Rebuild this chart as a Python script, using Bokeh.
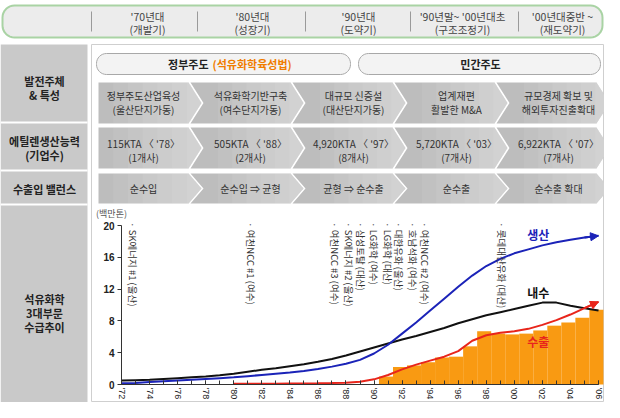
import math
from bokeh.plotting import figure
from bokeh.models import Range1d, FixedTicker, Arrow, NormalHead, ColumnDataSource
from bokeh.transform import dodge
from bokeh.core.properties import value
from bokeh.embed import file_html
from bokeh.resources import INLINE

# ---------------- data ----------------
years = list(range(1972, 2007))
production = [0.15, 0.2, 0.3, 0.4, 0.5, 0.6, 0.7, 0.8, 0.9, 1.05, 1.2, 1.35, 1.5, 1.7,
              1.95, 2.25, 2.6, 3.1, 3.9, 5.0, 6.4, 7.8, 9.3, 10.8, 12.3, 13.7, 14.9,
              15.8, 16.5, 17.0, 17.5, 17.9, 18.2, 18.5, 18.7]
domestic = [0.5, 0.55, 0.6, 0.7, 0.8, 0.9, 1.0, 1.15, 1.35, 1.6, 1.85, 2.05, 2.3, 2.55,
            2.85, 3.2, 3.65, 4.15, 4.65, 5.15, 5.65, 6.1, 6.6, 7.1, 7.7, 8.2, 8.7,
            9.1, 9.5, 9.9, 10.3, 10.3, 9.9, 9.6, 9.3]
export_years = list(range(1980, 2007))
exports = [0.1, 0.1, 0.1, 0.1, 0.12, 0.14, 0.15, 0.18, 0.22, 0.35, 0.65, 1.2, 1.9, 2.5,
           3.0, 3.5, 4.2, 5.5, 6.2, 6.5, 6.7, 7.0, 7.5, 8.1, 8.8, 9.6, 10.4]
bar_years = list(range(1991, 2007))
bar_exports = [1.0, 2.2, 2.4, 2.8, 3.4, 3.5, 4.8, 6.7, 6.4, 6.3, 6.4, 6.8, 7.4, 7.8, 8.4, 9.4]

y_ticks = [0, 4, 8, 12, 16, 20]
x_ticks = list(range(1972, 2007, 2))
x_tick_labels = ["'72", "'74", "'76", "'78", "'80", "'82", "'84", "'86", "'88", "'90",
                 "'92", "'94", "'96", "'98", "'00", "'02", "'04", "'06"]

plant_years = [1972.8, 1981.2, 1987.2, 1988.2, 1989.1, 1990.0, 1991.0, 1991.8, 1992.8, 1993.6, 1999.1]
plant_labels = ["· SK에너지 #1 (울산)", "· 여천NCC #1 (여수)", "· 여천NCC #3 (여수)",
                "· SK에너지 #2 (울산)", "· 삼성토탈 (대산)", "· LG화학 (여수)",
                "· LG화학 (대산)", "· 대한유화 (울산)", "· 호남석화 (여수)",
                "· 여천NCC #2 (여수)", "· 롯데대산유화 (대산)"]

series_names = ["생산", "내수", "수출"]
label_x = [2001.7, 2001.7, 2001.7]
label_y = [18.9, 11.6, 5.45]

periods = ["'70년대", "'80년대", "'90년대", "'90년말~ '00년대초", "'00년대중반 ~"]
period_names = ["(개발기)", "(성장기)", "(도약기)", "(구조조정기)", "(재도약기)"]
stage1 = ["정부주도산업육성", "석유화학기반구축", "대규모 신증설", "업계재편", "규모경제 확보 및"]
stage2 = ["(울산단지가동)", "(여수단지가동)", "(대산단지가동)", "활발한 M&A", "해외투자진출확대"]
capacity1 = ["115KTA 〈 '78〉", "505KTA 〈 '88〉", "4,920KTA 〈 '97〉", "5,720KTA 〈 '03〉", "6,922KTA 〈 '07〉"]
capacity2 = ["(1개사)", "(2개사)", "(8개사)", "(7개사)", "(7개사)"]
balance = ["순수입", "순수입 ⇒ 균형", "균형 ⇒ 순수출", "순수출", "순수출 확대"]

# ------------- pixel <-> data helpers (layout only) -------------
def X(px):
    return 1972 + (px - 121) / 14.03

def Y(py):
    return (384 - py) / 7.95

FONT = value("Noto Sans CJK KR")
W, H = 604, 402

p = figure(width=W, height=H, output_backend="svg", toolbar_location=None,
           x_range=Range1d(X(0), X(W)), y_range=Range1d(Y(H), Y(0)),
           min_border=0, outline_line_color=None)
p.grid.visible = False
p.background_fill_color = "white"


def rrect(x0, y0, x1, y1, r, n=8):
    pts = []
    corners = [(x1 - r, y0 + r, -90, 0), (x1 - r, y1 - r, 0, 90),
               (x0 + r, y1 - r, 90, 180), (x0 + r, y0 + r, 180, 270)]
    for cx, cy, a0, a1 in corners:
        for k in range(n + 1):
            a = math.radians(a0 + (a1 - a0) * k / n)
            pts.append((cx + r * math.cos(a), cy + r * math.sin(a)))
    return [X(q[0]) for q in pts], [Y(q[1]) for q in pts]


def box(x0, y0, x1, y1):
    return [X(x0), X(x1), X(x1), X(x0)], [Y(y0), Y(y0), Y(y1), Y(y1)]


def clip_x(pts, t):
    out = []
    n = len(pts)
    for k in range(n):
        a = pts[k]
        b = pts[(k + 1) % n]
        ina = a[0] >= t
        inb = b[0] >= t
        if ina:
            out.append(a)
        if ina != inb:
            f = (t - a[0]) / (b[0] - a[0])
            out.append((t, a[1] + f * (b[1] - a[1])))
    return out


def txt(px, py, s, size="10px", color="#333333", align="center", style="normal"):
    p.text(x=[X(px)], y=[Y(py)], text=[s], text_font=FONT, text_font_size=size,
           text_color=color, text_align=align, text_baseline="middle",
           text_font_style=style)


# ---------------- header ----------------
hx, hy = rrect(2, 5, 602, 37, 12)
p.patch(hx, hy, fill_color="#ececec", line_color="#a9d3a4", line_width=2)
for dx in [91, 197, 305, 410, 518]:
    p.line([X(dx), X(dx)], [Y(11), Y(31)], line_color="#9a9a9a", line_width=1)
head_x = [147, 252, 358, 462, 562]
for i in range(5):
    txt(head_x[i], 16, periods[i], size="10.5px", color="#444444")
    txt(head_x[i], 29, period_names[i], size="10.5px", color="#444444")

# ---------------- left column & panel ----------------
lx, ly = box(0, 44, 87, 402)
p.patch(lx, ly, fill_color="#c9c9c9", line_color=None)
for sy in [122, 170, 204]:
    p.line([X(0), X(87)], [Y(sy), Y(sy)], line_color="white", line_width=2)
px_, py_ = box(91, 44, 603, 401)
p.patch(px_, py_, fill_color="white", line_color="#cfcfcf", line_width=1)

txt(44, 80, "발전주체", size="11px", color="#222222", style="bold")
txt(44, 94, "& 특성", size="11px", color="#222222", style="bold")
txt(44, 140, "에틸렌생산능력", size="11px", color="#222222", style="bold")
txt(44, 154, "(기업수)", size="11px", color="#222222", style="bold")
txt(44, 188, "수출입 밸런스", size="11px", color="#222222", style="bold")
txt(44, 298, "석유화학", size="11px", color="#222222", style="bold")
txt(44, 312, "3대부문", size="11px", color="#222222", style="bold")
txt(44, 326, "수급추이", size="11px", color="#222222", style="bold")

# ---------------- pills ----------------
for (a, b) in [(96, 350), (358, 600)]:
    qx, qy = rrect(a, 53, b, 74, 10)
    p.patch(qx, qy, fill_color="#f3f3f3", line_color="#a8a8a8", line_width=1)
txt(208, 63, "정부주도", size="11px", color="#222222", style="bold", align="right")
txt(212, 63, "(석유화학육성법)", size="11px", color="#f07d00", style="bold", align="left")
txt(480, 63, "민간주도", size="11px", color="#222222", style="bold")

# ---------------- chevrons ----------------
rows = [(82, 123), (127, 168), (173, 203)]
for (yt, yb) in rows:
    ym = (yt + yb) / 2
    for i in range(5):
        T = 201 + 102 * i
        if i == 0:
            pts = [(98, yt), (T - 13, yt), (T, ym), (T - 13, yb), (98, yb)]
            left = 98
        else:
            Tp = T - 102
            pts = [(Tp - 11, yt), (T - 13, yt), (T, ym), (T - 13, yb), (Tp - 11, yb), (Tp + 2, ym)]
            left = Tp + 2
        p.patch([X(q[0]) for q in pts], [Y(q[1]) for q in pts], fill_color="#bdbdbd",
                line_color=None)
        for s in range(1, 7):
            t = left + s * (T - left) / 7.0
            c = clip_x(pts, t)
            if len(c) >= 3:
                p.patch([X(q[0]) for q in c], [Y(q[1]) for q in c], fill_color="white",
                        fill_alpha=0.07, line_color=None)

col_x = [143, 250, 353, 456, 558]
for i in range(5):
    txt(col_x[i], 95, stage1[i])
    txt(col_x[i], 109, stage2[i])
    txt(col_x[i], 143, capacity1[i])
    txt(col_x[i], 157, capacity2[i])
    txt(col_x[i], 188, balance[i])

# ---------------- chart ----------------
txt(111, 213, "(백만톤)", size="9px", color="#555555")

bars = ColumnDataSource(dict(x=bar_years, top=bar_exports))
p.vbar(x=dodge("x", -0.15), top="top", bottom=0, width=1.0, source=bars,
       fill_color="#f99a12", line_color=None)

blue = "#1b23b8"
red = "#e8251b"
p.line(years, domestic, line_color="#111111", line_width=2)
p.line(years, production, line_color=blue, line_width=2)
p.line(export_years, exports, line_color=red, line_width=2)

p.add_layout(Arrow(end=NormalHead(size=8, fill_color=blue, line_color=blue),
                   x_start=years[-2], y_start=production[-2], x_end=years[-1],
                   y_end=production[-1], line_color=blue, line_width=2))
p.add_layout(Arrow(end=NormalHead(size=8, fill_color=red, line_color=red),
                   x_start=export_years[-2], y_start=exports[-2], x_end=export_years[-1],
                   y_end=exports[-1], line_color=red, line_width=2))

p.text(x=plant_years, y=[20.4] * len(plant_years), text=plant_labels, text_font=FONT,
       text_font_size="9.5px", text_color="#333333", text_align="left",
       text_baseline="middle", angle=-math.pi / 2)

p.text(x=label_x, y=label_y, text=series_names, text_font=FONT, text_font_size="12px",
       text_color=[blue, "#111111", red], text_align="center", text_baseline="middle",
       text_font_style="bold")

# axes inside the frame
p.xaxis.fixed_location = 0
p.xaxis.bounds = (1972, 2006)
p.xaxis.ticker = FixedTicker(ticks=x_ticks, minor_ticks=years)
p.xaxis.major_label_overrides = {t: s for t, s in zip(x_ticks, x_tick_labels)}
p.xaxis.major_label_orientation = -math.pi / 2
p.xaxis.major_tick_in = 4
p.xaxis.major_tick_out = 0
p.xaxis.minor_tick_in = 4
p.xaxis.minor_tick_out = 0
p.xaxis.axis_line_color = "#333333"
p.xaxis.major_tick_line_color = "#333333"
p.xaxis.minor_tick_line_color = "#333333"
p.xaxis.major_label_text_font = "Liberation Sans"
p.xaxis.major_label_text_font_size = "9px"
p.xaxis.major_label_text_color = "#222222"
p.xaxis.major_label_standoff = 3

p.yaxis.fixed_location = 1972
p.yaxis.bounds = (0, 20)
p.yaxis.ticker = FixedTicker(ticks=y_ticks)
p.yaxis.major_tick_in = 0
p.yaxis.major_tick_out = 4
p.yaxis.minor_tick_line_color = None
p.yaxis.axis_line_color = "#333333"
p.yaxis.major_tick_line_color = "#333333"
p.yaxis.major_label_text_font = "Liberation Sans"
p.yaxis.major_label_text_font_style = "bold"
p.yaxis.major_label_text_font_size = "10px"
p.yaxis.major_label_text_color = "#222222"
p.yaxis.major_label_standoff = 3

open("out.html", "w").write(file_html(p, INLINE))
